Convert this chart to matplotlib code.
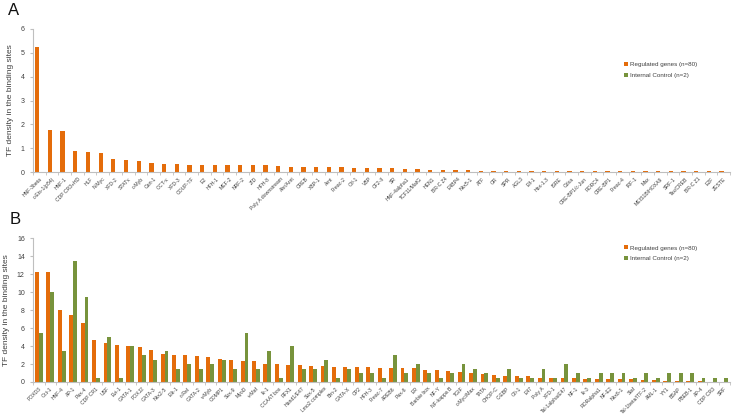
import numpy as np
import matplotlib.pyplot as plt

plt.rcParams['font.family'] = ['Liberation Sans', 'DejaVu Sans']

# Panel A data
labels_a = ['HNF-3beta', 'c-Ets-1(p54)', 'HNF-1', 'CDP CR3+HD', 'HLF', 'N-Myc', 'XFD-2', 'STATx',
            'c-Myb', 'Cart-1', 'OCT-x', 'XFD-3', 'COUP-TF', 'E2', 'HFH-1', 'MEF-2', 'NRF-2', 'ZID',
            'HFH-8', 'Poly A downstream', 'Ahr/Arnt', 'CREB', 'XBP-1', 'Arnt', 'Freac-2', 'Olf-1',
            'VBP', 'CF2-II', 'SR', 'HNF-4alpha1', 'TCF11/MafG', 'HEN1', 'BR-C Z4', 'E4BP4', 'Nkx5-1',
            'ATF', 'GR', 'SPR', 'AGL3', 'Elf-1', 'Hox-1.3', 'ISRE', 'Cdxa', 'CRE-BP1/c-Jun', 'RORC4',
            'CRE-BP1', 'Freac-4', 'IRF-1', 'Max', 'MEIS1B/HOXA9', 'SRF-1', 'Tax/CREB', 'BR-C Z1',
            'E2F', 'ZESTE']
reg_a = [5.25, 1.75, 1.72, 0.9, 0.85, 0.82, 0.57, 0.5, 0.47, 0.37, 0.34, 0.33, 0.32, 0.32,
         0.32, 0.32, 0.3, 0.31, 0.3, 0.26, 0.23, 0.22, 0.22, 0.2, 0.2, 0.19, 0.19, 0.17, 0.17,
         0.15, 0.14, 0.1, 0.09, 0.09, 0.09, 0.07, 0.07, 0.07, 0.06, 0.06, 0.06, 0.06, 0.05,
         0.05, 0.05, 0.05, 0.05, 0.05, 0.05, 0.05, 0.05, 0.05, 0.03, 0.03, 0.03]
ctrl_a = [0] * len(labels_a)

# Panel B data
labels_b = ['FOXD3', 'Oct-1', 'HNF-4', 'AP-1', 'Pax-4', 'CDP CR1', 'USF', 'Evi-1', 'GATA-1',
            'FOXJ2', 'GATA-3', 'Nkx2-5', 'Elk-1', 'c-Rel', 'GATA-2', 'v-Myb', 'COMP1', 'Sox-9',
            'MyoD', 'v-Maf', 'Ik-1', 'CCAAT box', 'RFX1', 'Hand1/E47', 'Sox-5', 'Lmo2 complex',
            'Brn-2', 'GATA-X', 'CP2', 'HFH-3', 'Freac-7', 'AREB6', 'Pax-6', 'ER', 'Barbie box',
            'NF-Y', 'NF-kappa B', 'TGIF', 'c-Myc/Max', 'TATA', 'CHOP-C', 'C-EBP', 'Gfi-1', 'E47',
            'Poly A', 'XFD-1', 'Tal-1alpha/E47', 'NF-1', 'Ik-3', 'RORalpha1', 'NF-E2', 'Nkx6-1',
            'Staf', 'Tal-1beta/ITF-2', 'AML-1', 'YY1', 'BSAP', 'PBEB-1', 'AP-4', 'CDP CR3', 'SRF']
reg_b = [12.2, 12.2, 8.0, 7.5, 6.6, 4.7, 4.3, 4.1, 4.05, 3.95, 3.55, 3.1, 3.05, 3.0, 2.85,
         2.75, 2.6, 2.45, 2.35, 2.3, 2.0, 2.0, 1.9, 1.85, 1.8, 1.78, 1.67, 1.67, 1.63, 1.63,
         1.55, 1.55, 1.55, 1.55, 1.33, 1.3, 1.2, 1.07, 1.0, 0.93, 0.78, 0.67, 0.63, 0.63,
         0.48, 0.4, 0.4, 0.4, 0.33, 0.33, 0.33, 0.3, 0.3, 0.25, 0.25, 0.15, 0.12, 0.1, 0.08,
         0.05, 0.03]
ctrl_b = [5.5, 10.0, 3.5, 13.5, 9.5, 0.5, 5.0, 0.5, 4.0, 3.0, 2.5, 3.5, 1.5, 2.0, 1.5, 2.0,
          2.5, 1.5, 5.5, 1.5, 3.5, 0.5, 4.0, 1.5, 1.5, 2.5, 0.5, 1.5, 1.0, 1.0, 0.5, 3.0, 1.0,
          2.0, 1.0, 0.5, 1.0, 2.0, 1.5, 1.0, 0.5, 1.5, 0.5, 0.5, 1.5, 0.5, 2.0, 1.0, 0.5, 1.0,
          1.0, 1.0, 0.5, 1.0, 0.5, 1.0, 1.0, 1.0, 0.5, 0.5, 0.5]

orange = '#E46C0A'
green = '#77933C'
txt = '#404040'
axcol = '#BFBFBF'

fig = plt.figure(figsize=(7.36, 4.2), dpi=100)


def panel(ax, labels, reg, ctrl, ymax, step):
    x = np.arange(len(labels))
    w = 0.34
    ax.bar(x - w / 2, reg, w, color=orange, label='Regulated genes (n=80)')
    ax.bar(x + w / 2, ctrl, w, color=green, label='Internal Control (n=2)')
    ax.set_xlim(-0.5, len(labels) - 0.5)
    ax.set_ylim(0, ymax)
    ax.set_yticks(np.arange(0, ymax + 0.01, step))
    ax.set_xticks(x)
    ax.set_xticklabels(labels, rotation=45, ha='right', rotation_mode='anchor',
                       fontsize=3.7, color=txt)
    ax.set_xticks(np.arange(-0.5, len(labels), 1), minor=True)
    ax.tick_params(axis='x', which='major', length=0, pad=3)
    ax.tick_params(axis='x', which='minor', length=2.5, color=axcol)
    ax.tick_params(axis='y', labelsize=5, colors=txt, length=2.5, color=axcol)
    for s in ['top', 'right']:
        ax.spines[s].set_visible(False)
    for s in ['left', 'bottom']:
        ax.spines[s].set_color(axcol)
        ax.spines[s].set_linewidth(0.8)
    ax.set_ylabel('TF density in the binding sites', fontsize=6, color=txt, labelpad=5)


ax1 = fig.add_axes([0.045, 0.590, 0.947, 0.341])
panel(ax1, labels_a, reg_a, ctrl_a, 6, 1)
leg = ax1.legend(loc='upper left', bbox_to_anchor=(0.84, 0.81), fontsize=4.5, frameon=False,
                 handlelength=0.6, handleheight=0.6, handletextpad=0.4, labelspacing=0.9)
for t in leg.get_texts():
    t.set_color(txt)

ax2 = fig.add_axes([0.045, 0.0905, 0.947, 0.342])
panel(ax2, labels_b, reg_b, ctrl_b, 16, 2)
leg = ax2.legend(loc='upper left', bbox_to_anchor=(0.84, 0.99), fontsize=4.5, frameon=False,
                 handlelength=0.6, handleheight=0.6, handletextpad=0.4, labelspacing=0.9)
for t in leg.get_texts():
    t.set_color(txt)

fig.text(0.011, 0.964, 'A', fontsize=12, color='#111111')
fig.text(0.013, 0.467, 'B', fontsize=12, color='#111111')

fig.savefig('out.png', dpi=100)
